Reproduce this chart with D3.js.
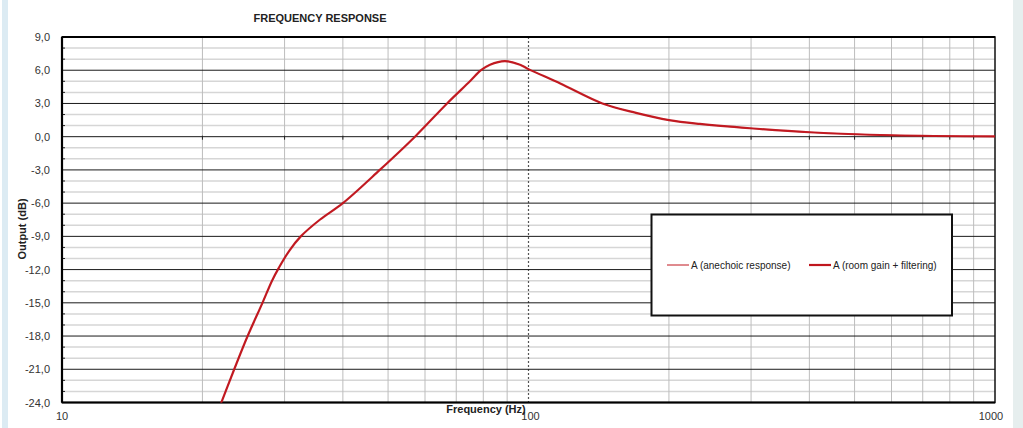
<!DOCTYPE html>
<html>
<head>
<meta charset="utf-8">
<script src="https://cdn.jsdelivr.net/npm/d3@7"></script>
<style>
  html, body { margin: 0; padding: 0; background: #fff; }
  svg { display: block; font-family: "Liberation Sans", Arial, sans-serif; }
</style>
</head>
<body>
<svg id="chart" width="1023" height="428"></svg>
<script>
// ---- data ----
const freqs = [21.5, 23.4, 25, 26.9, 28.2, 29.2, 30.7, 32.5, 35.7, 40, 48, 57.1, 66.9, 74.9, 79.1, 82.7, 89, 95.9, 100, 117, 144, 170, 200, 233, 298, 400, 600, 1000];
const roomGain = [-25, -21, -18, -15, -13, -11.8, -10.3, -9, -7.5, -6, -3, 0, 3, 5.0, 6.0, 6.5, 6.83, 6.5, 6.1, 4.8, 3.0, 2.15, 1.5, 1.15, 0.76, 0.4, 0.13, 0.02];
const anechoic = [-25, -21, -18, -15, -13, -11.8, -10.3, -9, -7.5, -6, -3, 0, 3, 5.0, 6.0, 6.5, 6.83, 6.5, 6.1, 4.8, 3.0, 2.15, 1.5, 1.15, 0.76, 0.4, 0.13, 0.02];
const yTicks = [9, 6, 3, 0, -3, -6, -9, -12, -15, -18, -21, -24];
const xTickLabels = [10, 100, 1000];
const seriesNames = ["A (anechoic response)", "A (room gain + filtering)"];
const title = "FREQUENCY RESPONSE";
const xTitle = "Frequency (Hz)";
const yTitle = "Output (dB)";

// ---- layout ----
const svg = d3.select("#chart");
const L = 62, R = 995, T = 37, B = 402.5;
const x = d3.scaleLog().domain([10, 1000]).range([L, R]);
const y = d3.scaleLinear().domain([-24, 9]).range([B, T]);
const red = "#c0161e";

// window-frame strips
svg.append("rect").attr("x", 2).attr("y", 0).attr("width", 6).attr("height", 428).attr("fill", "#dcebf3");
svg.append("rect").attr("x", 1013).attr("y", 0).attr("width", 10).attr("height", 428).attr("fill", "#e6eeee");

// minor horizontal grid
const minorY = d3.range(-24, 10, 1).filter(v => v % 3 !== 0);
svg.append("g").selectAll("line").data(minorY).join("line")
  .attr("x1", L).attr("x2", R).attr("y1", d => y(d)).attr("y2", d => y(d))
  .attr("stroke", "#d6d6d6").attr("stroke-width", 1.5);

// vertical grid
const vGrid = [];
[10, 100].forEach(dec => { for (let k = 2; k <= 9; k++) vGrid.push(dec * k); });
svg.append("g").selectAll("line").data(vGrid).join("line")
  .attr("x1", d => x(d)).attr("x2", d => x(d)).attr("y1", T).attr("y2", B)
  .attr("stroke", "#bdbdbd").attr("stroke-width", 1);
svg.append("line").attr("x1", x(100)).attr("x2", x(100)).attr("y1", T).attr("y2", B)
  .attr("stroke", "#555").attr("stroke-width", 1.2).attr("stroke-dasharray", "2,2");

// major horizontal grid
svg.append("g").selectAll("line").data(yTicks.filter(v => v > -24 && v < 9)).join("line")
  .attr("x1", L).attr("x2", R).attr("y1", d => y(d)).attr("y2", d => y(d))
  .attr("stroke", "#1a1a1a").attr("stroke-width", 1);

// ticks on 0 line
svg.append("g").selectAll("line").data(vGrid.concat([100])).join("line")
  .attr("x1", d => x(d)).attr("x2", d => x(d)).attr("y1", y(0) - 1).attr("y2", y(0) + 3)
  .attr("stroke", "#222").attr("stroke-width", 1);
// minor ticks on left axis
svg.append("g").selectAll("line").data(minorY).join("line")
  .attr("x1", L).attr("x2", L + 3).attr("y1", d => y(d)).attr("y2", d => y(d))
  .attr("stroke", "#222").attr("stroke-width", 1);

// frame
svg.append("rect").attr("x", L).attr("y", T).attr("width", R - L).attr("height", B - T)
  .attr("fill", "none").attr("stroke", "#111").attr("stroke-width", 1.5);
svg.append("line").attr("x1", L).attr("x2", L).attr("y1", T).attr("y2", B).attr("stroke", "#000").attr("stroke-width", 2.2);
svg.append("line").attr("x1", L).attr("x2", R).attr("y1", B).attr("y2", B).attr("stroke", "#000").attr("stroke-width", 2);
svg.append("line").attr("x1", L).attr("x2", R).attr("y1", T).attr("y2", T).attr("stroke", "#000").attr("stroke-width", 2);

// y labels
svg.append("g").selectAll("text").data(yTicks).join("text")
  .attr("x", 50).attr("y", d => y(d) + 4).attr("text-anchor", "end")
  .attr("font-size", 11).attr("fill", "#333")
  .text(d => d3.format(".1f")(d).replace(".", ",").replace("−", "-"));

// x labels
svg.append("g").selectAll("text").data(xTickLabels).join("text")
  .attr("x", d => x(d) + (d === 100 ? 2 : 0) - (d === 1000 ? 4 : 0)).attr("y", 420).attr("text-anchor", "middle")
  .attr("font-size", 11).attr("fill", "#333").text(d => d);

// titles
svg.append("text").attr("x", 320).attr("y", 22).attr("text-anchor", "middle")
  .attr("font-size", 11).attr("font-weight", "bold").attr("fill", "#222").text(title);
svg.append("text").attr("x", 486).attr("y", 413).attr("text-anchor", "middle")
  .attr("font-size", 11).attr("font-weight", "bold").attr("fill", "#222").text(xTitle);
svg.append("text").attr("transform", "translate(26,229) rotate(-90)").attr("text-anchor", "middle")
  .attr("font-size", 11).attr("font-weight", "bold").attr("fill", "#222").text(yTitle);

// curves
svg.append("clipPath").attr("id", "pc").append("rect")
  .attr("x", L).attr("y", T).attr("width", R - L).attr("height", B - T);
const line = d3.line().x(d => x(d[0])).y(d => y(d[1])).curve(d3.curveCatmullRom.alpha(0.5));
svg.append("path").datum(freqs.map((f, i) => [f, anechoic[i]]))
  .attr("d", line).attr("fill", "none").attr("stroke", red).attr("stroke-width", 1)
  .attr("clip-path", "url(#pc)");
svg.append("path").datum(freqs.map((f, i) => [f, roomGain[i]]))
  .attr("d", line).attr("fill", "none").attr("stroke", red).attr("stroke-width", 2.2)
  .attr("stroke-opacity", 0.95).attr("clip-path", "url(#pc)");

// legend
const lg = svg.append("g");
lg.append("rect").attr("x", 651.5).attr("y", 214.5).attr("width", 300.5).attr("height", 101)
  .attr("fill", "#fff").attr("stroke", "#111").attr("stroke-width", 2);
lg.append("line").attr("x1", 667).attr("x2", 689).attr("y1", 265).attr("y2", 265).attr("stroke", red).attr("stroke-width", 1);
lg.append("text").attr("x", 691).attr("y", 269).attr("font-size", 10).attr("fill", "#222").text(seriesNames[0]);
lg.append("line").attr("x1", 809).attr("x2", 831).attr("y1", 265).attr("y2", 265).attr("stroke", red).attr("stroke-width", 2.2);
lg.append("text").attr("x", 833).attr("y", 269).attr("font-size", 10).attr("fill", "#222").text(seriesNames[1]);
</script>
</body>
</html>
